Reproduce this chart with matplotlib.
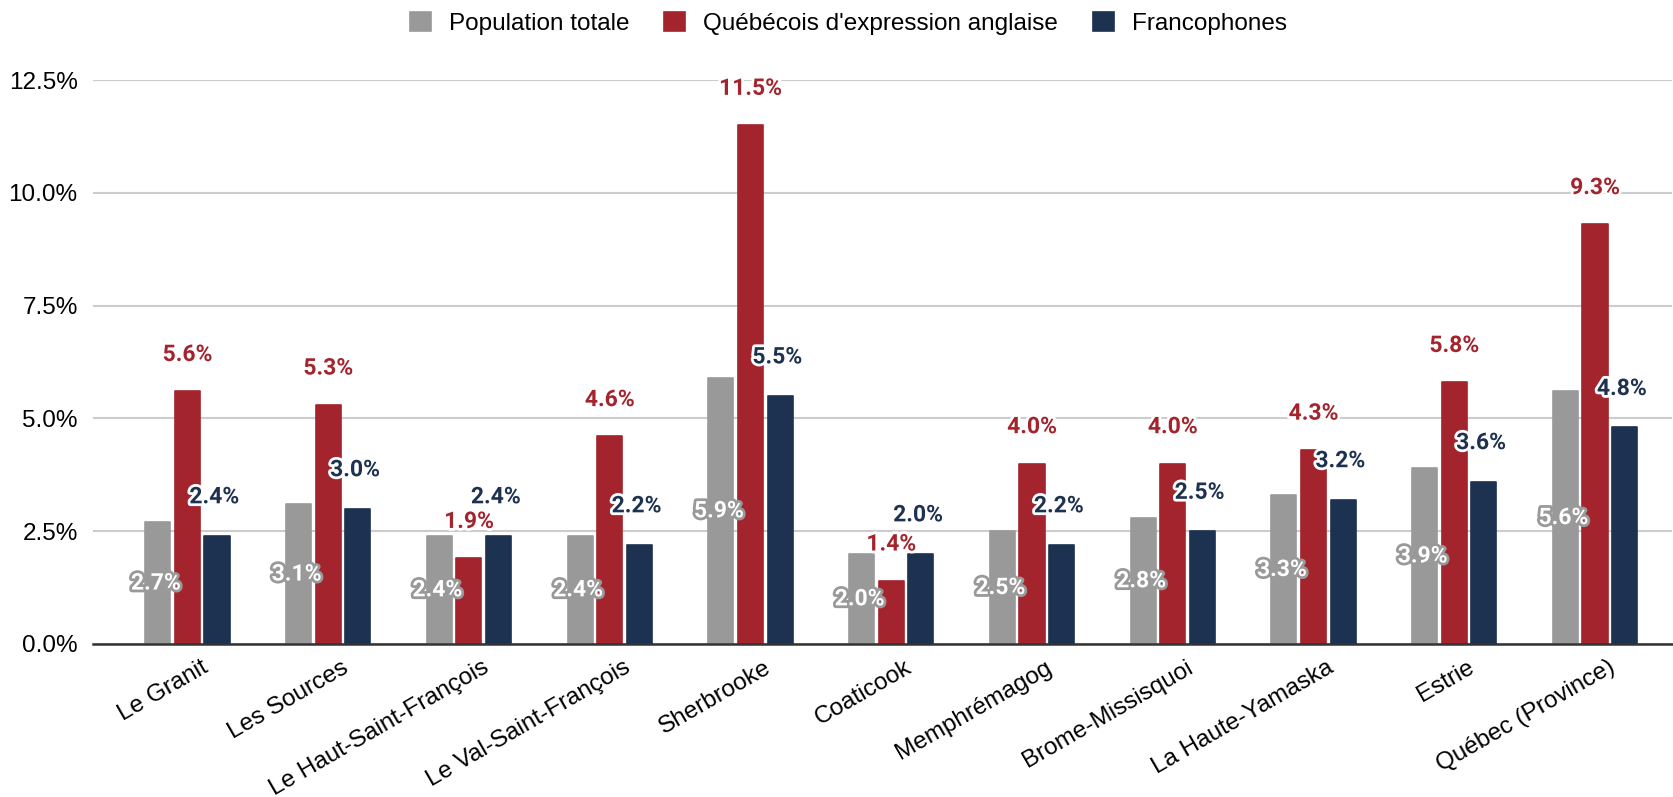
import numpy as np
import matplotlib.pyplot as plt
import matplotlib.patheffects as pe
import matplotlib.transforms as mtransforms
from matplotlib.ticker import FuncFormatter, MultipleLocator


# ------------------------------------------------------------
# Data
# ------------------------------------------------------------

REGIONS = [
    "Le Granit",
    "Les Sources",
    "Le Haut-Saint-François",
    "Le Val-Saint-François",
    "Sherbrooke",
    "Coaticook",
    "Memphrémagog",
    "Brome-Missisquoi",
    "La Haute-Yamaska",
    "Estrie",
    "Québec (Province)",
]

POP_TOTALE = [2.7, 3.1, 2.4, 2.4, 5.9, 2.0, 2.5, 2.8, 3.3, 3.9, 5.6]
ANGLOPHONES = [5.6, 5.3, 1.9, 4.6, 11.5, 1.4, 4.0, 4.0, 4.3, 5.8, 9.3]
FRANCOPHONES = [2.4, 3.0, 2.4, 2.2, 5.5, 2.0, 2.2, 2.5, 3.2, 3.6, 4.8]

SERIES_NAMES = ["Population totale", "Québécois d'expression anglaise", "Francophones"]

GRAY = "#999999"
RED = "#A3242C"
NAVY = "#1D3150"

TICK_FONT = "Liberation Sans"
LABEL_FONT = "Roboto"
TEXT_SIZE = 17.5
VALUE_SIZE = 16.5


def main():
    fig = plt.figure(figsize=(16.73, 7.97), dpi=100)
    ax = fig.add_axes([0.0556, 0.192, 0.9438, 0.7076])

    x = np.arange(len(REGIONS))
    width = 0.178
    step = 0.21

    series = [
        (POP_TOTALE, GRAY),
        (ANGLOPHONES, RED),
        (FRANCOPHONES, NAVY),
    ]

    for i, (values, color) in enumerate(series):
        ax.bar(
            x + (i - 1) * step,
            values,
            width=width,
            color=color,
            edgecolor=color,
            linewidth=1.2,
            joinstyle="round",
            label=SERIES_NAMES[i],
            zorder=3,
        )

    # data labels
    for xi, v in zip(x, POP_TOTALE):
        ax.annotate(
            f"{v:.1f}%", (xi - step, v / 2), xytext=(-1.5, 0), textcoords="offset points",
            ha="center", va="center", fontsize=VALUE_SIZE, fontweight="bold",
            family=LABEL_FONT, color="white", zorder=5,
            path_effects=[pe.withStroke(linewidth=4, foreground=GRAY)],
        )

    for xi, v in zip(x, ANGLOPHONES):
        ax.annotate(
            f"{v:.1f}%", (xi, v), xytext=(0, 26.5), textcoords="offset points",
            ha="center", va="center", fontsize=VALUE_SIZE, fontweight="bold",
            family=LABEL_FONT, color=RED, zorder=5,
            path_effects=[pe.withStroke(linewidth=4, foreground="white")],
        )

    for xi, v in zip(x, FRANCOPHONES):
        ax.annotate(
            f"{v:.1f}%", (xi + step, v), xytext=(-2, 28), textcoords="offset points",
            ha="center", va="center", fontsize=VALUE_SIZE, fontweight="bold",
            family=LABEL_FONT, color=NAVY, zorder=5,
            path_effects=[pe.withStroke(linewidth=4, foreground="white")],
        )

    ax.set_xlim(-0.671, 10.547)
    ax.set_ylim(0, 12.5)
    ax.yaxis.set_major_locator(MultipleLocator(2.5))
    ax.yaxis.set_major_formatter(FuncFormatter(lambda v, _: f"{v:.1f}%"))

    ax.grid(axis="y", color="#cccccc", linewidth=1.5, zorder=0)
    ax.set_axisbelow(True)
    for side in ["top", "right", "left"]:
        ax.spines[side].set_visible(False)
    ax.spines["bottom"].set_color("#333333")
    ax.spines["bottom"].set_linewidth(1.8)
    ax.spines["bottom"].set_zorder(4)

    ax.tick_params(axis="y", length=0, pad=11, labelsize=TEXT_SIZE)
    ax.tick_params(axis="x", length=0, pad=9, labelsize=TEXT_SIZE)
    for lbl in ax.get_yticklabels():
        lbl.set_family(TICK_FONT)

    ax.set_xticks(x)
    ax.set_xticklabels(REGIONS, rotation=30, ha="right", va="top", rotation_mode="anchor",
                       family=TICK_FONT, fontsize=TEXT_SIZE)
    shift = mtransforms.ScaledTranslation(0.13, 0, fig.dpi_scale_trans)
    for lbl in ax.get_xticklabels():
        lbl.set_transform(lbl.get_transform() + shift)

    ax.legend(
        loc="center", bbox_to_anchor=(0.507, 0.971), bbox_transform=fig.transFigure,
        ncol=3, frameon=False, prop={"family": TICK_FONT, "size": TEXT_SIZE},
        handlelength=0.86, handleheight=0.86, handletextpad=0.74, columnspacing=1.44,
    )

    fig.savefig("out.png", dpi=100)
    plt.close(fig)


if __name__ == "__main__":
    main()
